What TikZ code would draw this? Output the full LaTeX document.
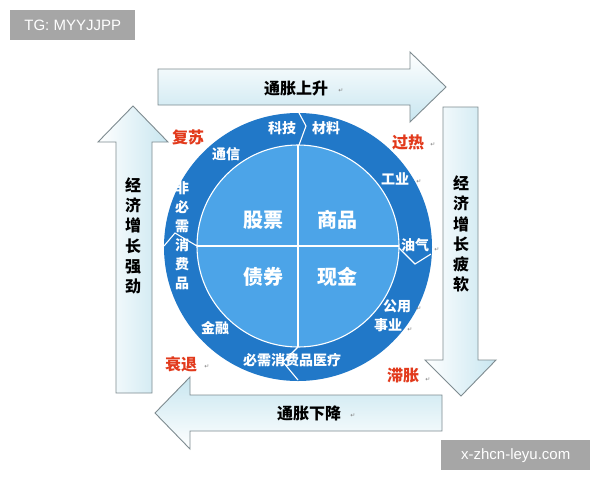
\documentclass[tikz,border=0pt]{standalone}
\usepackage{fontspec}
\setmainfont{Liberation Sans}
\newfontfamily\cjk{Noto Sans CJK SC}
\newfontfamily\symfont{DejaVu Sans}
\definecolor{ringblue}{HTML}{2178C8}
\definecolor{innerblue}{HTML}{4CA4E8}
\definecolor{arrowtint}{HTML}{C8E6F0}
\definecolor{arrowedge}{HTML}{7E8B90}
\definecolor{phasered}{HTML}{E23A1C}
\definecolor{wmgray}{HTML}{A6A6A6}
\begin{document}
\begin{tikzpicture}[x=1pt,y=-1pt,
  bigarrow/.style={draw=arrowedge, line width=0.9pt, line join=miter},
  ringtxt/.style={text=white, font=\cjk\bfseries\fontsize{14}{19}\selectfont, inner sep=0pt, align=center},
  quadtxt/.style={text=white, font=\cjk\bfseries\fontsize{20}{20}\selectfont, inner sep=0pt},
  phasetxt/.style={text=phasered, font=\cjk\bfseries\fontsize{16}{16}\selectfont, inner sep=0pt},
  arrowtxt/.style={text=black, font=\cjk\bfseries\fontsize{16}{20.2}\selectfont, inner sep=0pt, align=center},
  retmark/.style={text=gray, font=\symfont\fontsize{6}{6}\selectfont, inner sep=0pt},
  divider/.style={draw=white, line width=1.1pt},
  wmark/.style={fill=wmgray, text=white, inner sep=0pt, font=\fontsize{15}{15}\selectfont}
]
\useasboundingbox (0,0) rectangle (600,480);
\fill[white] (0,0) rectangle (600,480);

% watermarks
\node[wmark, minimum width=125pt, minimum height=30pt, anchor=north west] (wm1) at (10,10) {TG: MYYJJPP};
\node[wmark, minimum width=149pt, minimum height=30pt, anchor=north west] (wm2) at (441,440) {x-zhcn-leyu.com};

% arrows
\path[bigarrow, top color=white, bottom color=arrowtint]
  (158,69) -- (410,69) -- (410,52) -- (446,87) -- (410,122) -- (410,105) -- (158,105) -- cycle;
\path[bigarrow, left color=white, right color=arrowtint]
  (116,393) -- (116,142) -- (98,142) -- (133,106) -- (168,142) -- (152,142) -- (152,393) -- cycle;
\path[bigarrow, left color=white, right color=arrowtint]
  (443,107) -- (478,107) -- (478,360) -- (496,360) -- (461,396) -- (425,360) -- (443,360) -- cycle;
\path[bigarrow, top color=arrowtint, bottom color=white]
  (442,395) -- (442,431) -- (190,431) -- (190,449) -- (155,413) -- (190,377) -- (190,395) -- cycle;

\node[arrowtxt] (up) at (296,88) {通胀上升};
\node[arrowtxt] (down) at (309,413) {通胀下降};
\node[arrowtxt] (strong) at (133,236) {经\\济\\增\\长\\强\\劲};
\node[arrowtxt] (weak) at (461,234) {经\\济\\增\\长\\疲\\软};

% circle
\fill[ringblue] (298,247) circle (134);
\fill[innerblue] (298,246) circle (101);
\draw[divider] (298,246) circle (101);
\draw[divider] (197,246) -- (399,246);
\draw[divider] (298,145) -- (298,347);

% ring dividers
\draw[divider] (298,111) -- (306,126) -- (299,145);
\draw[divider] (164,246) -- (175,233) -- (197,246);
\draw[divider] (399,248) -- (415,264) -- (431,254);
\draw[divider] (298,347) -- (283,362) -- (298,380);

% quadrant labels
\node[quadtxt] (stock) at (263,220) {股票};
\node[quadtxt] (comm) at (337,220) {商品};
\node[quadtxt] (bond) at (263,277) {债券};
\node[quadtxt] (cash) at (337,277) {现金};

% ring labels
\node[ringtxt] (tech) at (282,128) {科技};
\node[ringtxt] (mat) at (326,128) {材料};
\node[ringtxt] (tel) at (226,154) {通信};
\node[ringtxt] (disc) at (182,236) {非\\必\\需\\消\\费\\品};
\node[ringtxt] (ind) at (395,179) {工业};
\node[ringtxt] (oil) at (415,245) {油气};
\node[ringtxt] (util1) at (397,306) {公用};
\node[ringtxt] (util2) at (388,325) {事业};
\node[ringtxt] (fin) at (215,328) {金融};
\node[ringtxt] (stap) at (292,360) {必需消费品医疗};

% phase labels
\node[phasetxt] (rec) at (188,137) {复苏};
\node[phasetxt] (hot) at (408,142) {过热};
\node[phasetxt] (slump) at (181,364) {衰退};
\node[phasetxt] (stag) at (403,376) {滞胀};

% paragraph marks
\node[retmark] at (341,91) {↵};
\node[retmark] at (433,145) {↵};
\node[retmark] at (419,182) {↵};
\node[retmark] at (437,250) {↵};
\node[retmark] at (419,309) {↵};
\node[retmark] at (410,330) {↵};
\node[retmark] at (428,380) {↵};
\node[retmark] at (207,367) {↵};
\node[retmark] at (353,416) {↵};
\end{tikzpicture}
\end{document}
